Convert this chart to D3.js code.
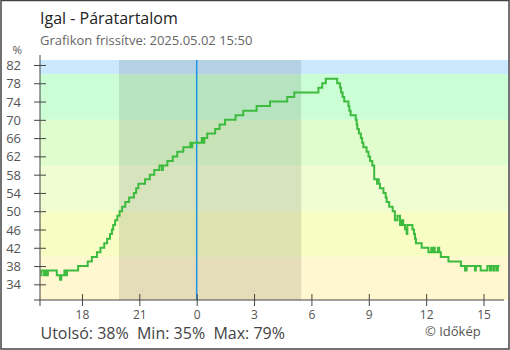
<!DOCTYPE html>
<html>
<head>
<meta charset="utf-8">
<script src="https://cdn.jsdelivr.net/npm/d3@7"></script>
<style>
  html, body { margin: 0; padding: 0; background: #fff; }
  svg { display: block; font-family: "Open Sans", "Noto Sans", sans-serif; }
</style>
</head>
<body>
<svg id="chart" width="510" height="350"></svg>
<script>
// Relative humidity readings (clock time of each change, value in %)
const times = [
  "15:50","15:53","16:01","16:04","16:10","16:13","16:41","16:51","16:55","17:05",
  "17:08","17:13","17:48","18:18","18:31","18:47","18:58","19:10","19:19","19:28",
  "19:34","19:38","19:44","19:51","19:58","20:06","20:16","20:28","20:43","20:50",
  "20:57","21:18","21:33","21:47","22:03","22:11","22:14","22:28","22:45","22:59",
  "23:18","23:40","23:42","23:46","00:16","00:19","00:24","00:33","00:58","01:12",
  "01:29","02:02","02:26","03:08","03:50","04:44","05:06","06:22","06:34","06:45",
  "07:21","07:30","07:33","07:38","07:43","07:56","07:59","08:03","08:19","08:22",
  "08:24","08:29","08:35","08:39","08:43","08:53","08:59","09:04","09:11","09:17",
  "09:26","09:29","09:31","09:35","09:46","09:53","09:56","10:04","10:15","10:22",
  "10:30","10:38","10:44","10:48","10:54","10:59","11:01","11:17","11:22","11:25",
  "11:28","11:46","12:07","12:16","12:19","12:24","12:27","12:37","12:41","12:46",
  "13:10","13:49","14:02","14:07","14:33","14:36","14:51","15:12","15:20","15:24",
  "15:31","15:34","15:41","15:45","15:50"
];
const values = [
  36,37,36,37,36,37,36,35,36,37,
  36,37,38,39,40,41,42,43,44,45,
  46,47,48,49,50,51,52,53,54,55,
  56,57,58,59,60,59,60,61,62,63,
  64,65,64,65,66,65,66,67,68,69,
  70,71,72,73,74,75,76,77,78,79,
  78,77,76,75,74,73,72,71,70,69,
  68,67,66,65,64,63,62,61,60,57,
  56,57,56,55,54,53,52,51,50,48,
  49,47,48,47,46,45,47,46,45,44,
  43,42,41,42,41,42,41,42,41,40,
  39,38,37,38,37,38,37,38,37,38,
  37,38,37,38,38
];

// Axis ticks
const yTicks = [34, 38, 42, 46, 50, 54, 58, 62, 66, 70, 74, 78, 82];
const xTickHours = [18, 21, 0, 3, 6, 9, 12, 15];

// Background humidity bands (limits and colours, bottom to top)
const bandLimits = [30, 40, 50, 60, 70, 80, 90];
const bandColors = ["#fff7cf", "#f7fdc3", "#effdd3", "#e0fdcd", "#ccfed6", "#cbe9fd"];

// Night period (sunset to sunrise)
const nightStart = "2025-05-01T19:56";
const nightEnd = "2025-05-02T05:28";

const place = "Igal";
const updated = "2025.05.02 15:50";

(function draw() {
  // Dated points: the series starts on May 1 and rolls over at midnight
  const points = [];
  let day = 1, prev = -1;
  times.forEach((t, i) => {
    const [h, m] = t.split(":").map(Number);
    const mins = h * 60 + m;
    if (mins < prev) day += 1;
    prev = mins;
    points.push({ date: new Date(2025, 4, day, h, m), value: values[i] });
  });

  const svg = d3.select("#chart");
  const pL = 40, pR = 508, pT = 60, pB = 300;

  const x = d3.scaleTime()
    .domain([new Date(2025, 4, 1, 15, 48, 20), new Date(2025, 4, 2, 16, 16, 50)])
    .range([pL, pR]);
  const y = d3.scaleLinear()
    .domain([30.57, 83.09])
    .range([pB, pT]);

  svg.append("defs").append("clipPath").attr("id", "plot")
    .append("rect").attr("x", pL).attr("y", pT)
    .attr("width", pR - pL).attr("height", pB - pT);

  const plot = svg.append("g").attr("clip-path", "url(#plot)");

  // Bands
  bandColors.forEach((c, i) => {
    const y0 = y(bandLimits[i]), y1 = y(bandLimits[i + 1]);
    plot.append("rect")
      .attr("x", pL).attr("width", pR - pL)
      .attr("y", y1).attr("height", y0 - y1)
      .attr("fill", c);
  });

  // Night shading
  plot.append("rect")
    .attr("x", x(new Date(nightStart)))
    .attr("width", x(new Date(nightEnd)) - x(new Date(nightStart)))
    .attr("y", pT).attr("height", pB - pT)
    .attr("fill", "#000").attr("fill-opacity", 0.1);

  // Midnight marker
  const midnight = new Date(2025, 4, 2, 0, 0);
  plot.append("line")
    .attr("x1", x(midnight)).attr("x2", x(midnight))
    .attr("y1", pT).attr("y2", pB)
    .attr("stroke", "#1f93e6").attr("stroke-width", 1.5);

  // Humidity line
  const line = d3.line()
    .x(d => x(d.date))
    .y(d => y(d.value))
    .curve(d3.curveStepAfter);
  plot.append("path")
    .datum(points)
    .attr("d", line)
    .attr("fill", "none")
    .attr("stroke", "#3dbb3f")
    .attr("stroke-width", 2);

  // Y axis
  const yAxis = svg.append("g").attr("transform", `translate(${pL},0)`)
    .call(d3.axisLeft(y).tickValues(yTicks).tickSize(6).tickFormat(d3.format("d")));
  yAxis.select(".domain").remove();
  yAxis.selectAll(".tick line").attr("x1", -6).attr("x2", 6).attr("stroke", "#444");
  yAxis.selectAll(".tick text").attr("x", -19).attr("dy", "0.35em")
    .attr("fill", "#555").style("font-size", "13px")
    .style("font-family", '"Open Sans", sans-serif');
  svg.append("line").attr("x1", pL).attr("x2", pL).attr("y1", 55).attr("y2", 306)
    .attr("stroke", "#444").attr("stroke-width", 1);

  // X axis
  const xTickDates = xTickHours.map(h => new Date(2025, 4, h >= 16 ? 1 : 2, h, 0));
  const xAxis = svg.append("g").attr("transform", `translate(0,${pB})`)
    .call(d3.axisBottom(x).tickValues(xTickDates).tickSize(6).tickFormat(d => String(d.getHours())));
  xAxis.select(".domain").remove();
  xAxis.selectAll(".tick line").attr("y1", -6).attr("y2", 6).attr("stroke", "#444");
  xAxis.selectAll(".tick text").attr("y", 19).attr("dy", 0)
    .attr("fill", "#555").style("font-size", "12px")
    .style("font-family", '"Open Sans", sans-serif');
  svg.append("line").attr("x1", 34).attr("x2", 504).attr("y1", pB).attr("y2", pB)
    .attr("stroke", "#444").attr("stroke-width", 1);

  // Titles
  svg.append("text").attr("x", 40).attr("y", 24)
    .attr("fill", "#222").style("font-size", "16px")
    .text(`${place} - Páratartalom`);
  svg.append("text").attr("x", 40).attr("y", 45)
    .attr("fill", "#666").style("font-size", "13px")
    .text(`Grafikon frissítve: ${updated}`);
  svg.append("text").attr("x", 22).attr("y", 54).attr("text-anchor", "end")
    .attr("fill", "#555").style("font-size", "11.5px").text("%");

  // Summary: latest, minimum and maximum reading
  const last = values[values.length - 1];
  const minV = d3.min(values), maxV = d3.max(values);
  svg.append("text").attr("x", 40.5).attr("y", 339)
    .attr("fill", "#444").style("font-size", "16px").style("white-space", "pre")
    .text(`Utolsó: ${last}%  Min: ${minV}%  Max: ${maxV}%`);
  svg.append("text").attr("x", 425).attr("y", 336)
    .attr("fill", "#555").style("font-size", "13px")
    .text("© Időkép");

  // Frame
  svg.append("rect").attr("x", 1).attr("y", 0.5).attr("width", 508).attr("height", 348.5)
    .attr("fill", "none").attr("stroke", "#444").attr("stroke-width", 1.5);
})();
</script>
</body>
</html>
